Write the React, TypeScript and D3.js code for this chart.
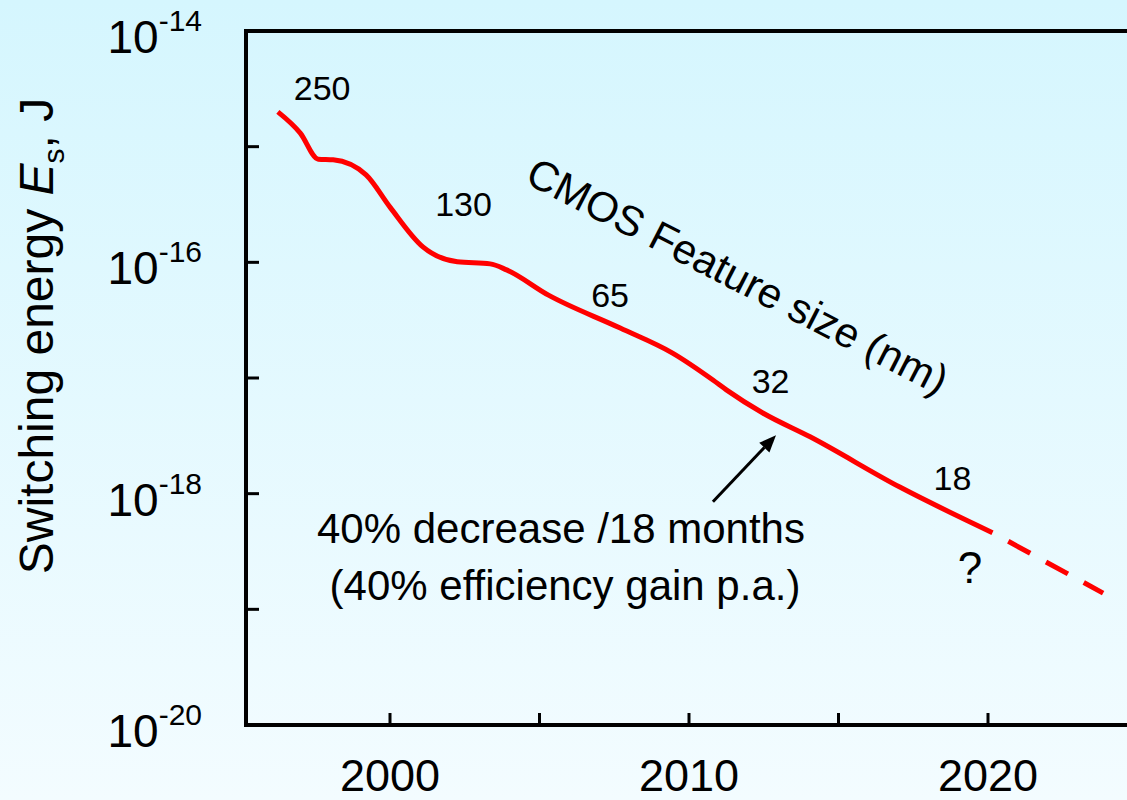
import React from "react";
import * as d3 from "d3";

// ---- Data ----
const years = [1996.25, 1997.0, 1997.6, 1998.1, 1999.2, 2000.0, 2001.1, 2002.25, 2003.35, 2003.9, 2005.3, 2007.7, 2009.45, 2010.8, 2011.25, 2012.47, 2014.05, 2017.05, 2020.15];
const energies = [2.0e-15, 1.31e-15, 7.8e-16, 7.7e-16, 5.7e-16, 3.0e-16, 1.36e-16, 1.01e-16, 9.7e-17, 8.6e-17, 5.2e-17, 2.7e-17, 1.64e-17, 9.6e-18, 7.9e-18, 4.98e-18, 3.1e-18, 1.14e-18, 4.6e-19];
const projYears = [2020.15, 2023.85];
const projEnergies = [4.6e-19, 1.38e-19];

const featureLabels = ["250", "130", "65", "32", "18"];
const featureYears = [1997.73, 2002.46, 2007.36, 2012.73, 2018.81];
const featureEnergies = [2.53e-15, 2.52e-16, 4.11e-17, 7.41e-18, 1.08e-18];

const yTickValues = [1e-14, 1e-15, 1e-16, 1e-17, 1e-18, 1e-19, 1e-20];
const yLabelExps = [-14, -16, -18, -20];
const xTickValues = [2000, 2005, 2010, 2015, 2020];
const xLabelValues = [2000, 2010, 2020];

const FONT = "'Liberation Sans', Arial, Helvetica, sans-serif";

export default function App() {
  const W = 1127, H = 800;
  const left = 246, top = 31, bottom = 725, right = W;
  const x = d3.scaleLinear().domain([2000, 2020]).range([390, 988]);
  const y = d3.scaleLog().domain([1e-20, 1e-14]).range([bottom, top]);

  const line = d3
    .line<number>()
    .x((_, i) => x(years[i]))
    .y((_, i) => y(energies[i]))
    .curve(d3.curveMonotoneX);
  const projLine = d3
    .line<number>()
    .x((_, i) => x(projYears[i]))
    .y((_, i) => y(projEnergies[i]));

  // arrow annotation in data coords
  const arrowFrom = [x(2010.8), y(8.5e-19)];
  const arrowTo = [x(2012.91), y(3.2e-18)];
  const ang = Math.atan2(arrowTo[1] - arrowFrom[1], arrowTo[0] - arrowFrom[0]);
  const ah = 17, aw = 7;
  const bx = arrowTo[0] - ah * Math.cos(ang), by = arrowTo[1] - ah * Math.sin(ang);
  const headPts = [
    [arrowTo[0], arrowTo[1]],
    [bx + aw * Math.sin(ang), by - aw * Math.cos(ang)],
    [bx - aw * Math.sin(ang), by + aw * Math.cos(ang)],
  ];

  return (
    <svg
      width={W}
      height={H}
      style={{ position: "absolute", left: 0, top: 0, display: "block" }}
      fontFamily={FONT}
    >
      <defs>
        <linearGradient id="bg" x1="0" y1="0" x2="0" y2="1">
          <stop offset="0" stopColor="#d5f6fe" />
          <stop offset="1" stopColor="#f3fcff" />
        </linearGradient>
      </defs>
      <rect x={0} y={0} width={W} height={H} fill="url(#bg)" />

      {/* frame */}
      <line x1={left} x2={right} y1={top} y2={top} stroke="#000" strokeWidth={4} />
      <line x1={left} x2={left} y1={top - 2} y2={bottom + 2} stroke="#000" strokeWidth={4} />
      <line x1={left - 2} x2={right} y1={bottom} y2={bottom} stroke="#000" strokeWidth={4} />

      {/* y ticks */}
      {yTickValues
        .filter((v) => v < 1e-14 && v > 1e-20)
        .map((v, i) => (
          <line key={"yt" + i} x1={left} x2={left + 13} y1={y(v)} y2={y(v)} stroke="#000" strokeWidth={3} />
        ))}
      {yLabelExps.map((e) => (
        <text key={"yl" + e} x={202} y={y(Math.pow(10, e)) + 22} textAnchor="end" fontSize={46} fill="#000">
          <tspan>10</tspan>
          <tspan fontSize={30} dy={-22}>{"-" + Math.abs(e)}</tspan>
        </text>
      ))}

      {/* x ticks */}
      {xTickValues.map((v) => (
        <line key={"xt" + v} x1={x(v)} x2={x(v)} y1={bottom} y2={bottom - 12} stroke="#000" strokeWidth={3} />
      ))}
      {xLabelValues.map((v) => (
        <text key={"xl" + v} x={x(v)} y={791} textAnchor="middle" fontSize={45} fill="#000">
          {v}
        </text>
      ))}

      {/* y axis title */}
      <text transform="translate(53,336) rotate(-90)" textAnchor="middle" fontSize={48} fill="#000">
        <tspan>Switching energy </tspan>
        <tspan fontStyle="italic">E</tspan>
        <tspan fontSize={30} dy={11}>s</tspan>
        <tspan dy={-11}>, J</tspan>
      </text>

      {/* data line */}
      <path d={line(years) || ""} fill="none" stroke="#ff0000" strokeWidth={5} strokeLinejoin="round" />
      <path
        d={projLine(projYears) || ""}
        fill="none"
        stroke="#ff0000"
        strokeWidth={5}
        strokeDasharray="25 18"
        strokeDashoffset={25}
      />

      {/* feature size labels */}
      {featureLabels.map((t, i) => (
        <text key={"f" + t} x={x(featureYears[i])} y={y(featureEnergies[i])} textAnchor="middle" fontSize={34} fill="#000">
          {t}
        </text>
      ))}
      <text x={x(2019.4)} y={y(1.69e-19)} textAnchor="middle" fontSize={44} fill="#000">?</text>

      {/* rotated label */}
      <text transform="translate(731,289) rotate(27.2)" textAnchor="middle" fontSize={42} fill="#000">
        CMOS Feature size (nm)
      </text>

      {/* arrow */}
      <line x1={arrowFrom[0]} y1={arrowFrom[1]} x2={bx} y2={by} stroke="#000" strokeWidth={3} />
      <polygon points={headPts.map((p) => p.join(",")).join(" ")} fill="#000" />

      {/* annotation text */}
      <text x={561} y={543} textAnchor="middle" fontSize={42} fill="#000">40% decrease /18 months</text>
      <text x={565} y={600} textAnchor="middle" fontSize={42} fill="#000">(40% efficiency gain p.a.)</text>
    </svg>
  );
}
